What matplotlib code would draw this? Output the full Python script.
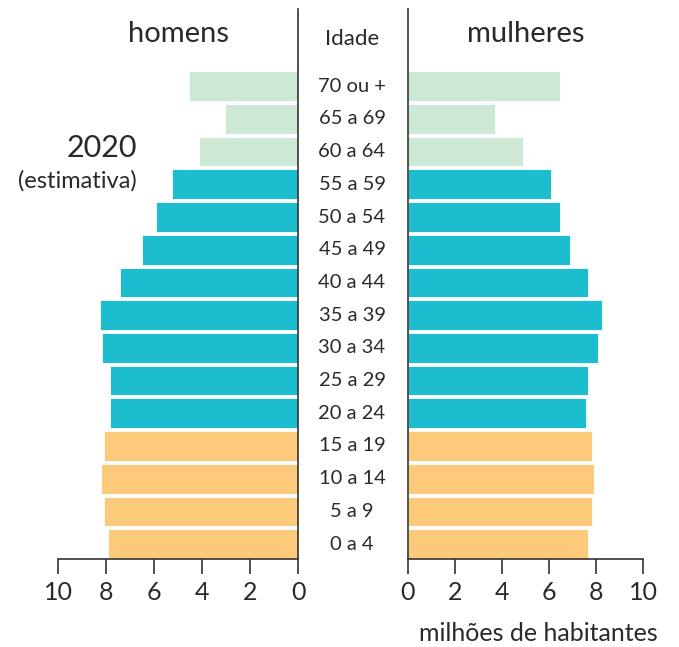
import matplotlib.pyplot as plt
import matplotlib.transforms as mtransforms
import numpy as np

# faixas etarias, de baixo para cima
idades = ["0 a 4", "5 a 9", "10 a 14", "15 a 19", "20 a 24", "25 a 29",
          "30 a 34", "35 a 39", "40 a 44", "45 a 49", "50 a 54", "55 a 59",
          "60 a 64", "65 a 69", "70 ou +"]
homens = [7.92, 8.08, 8.23, 8.08, 7.83, 7.83, 8.17, 8.25, 7.42, 6.5,
          5.94, 5.28, 4.13, 3.05, 4.54]
mulheres = [7.66, 7.83, 7.92, 7.83, 7.58, 7.66, 8.07, 8.26, 7.66, 6.9,
            6.47, 6.07, 4.89, 3.72, 6.47]
grupo = [0, 0, 0, 0, 1, 1, 1, 1, 1, 1, 1, 1, 2, 2, 2]
cores = ["#fdca7b", "#1dbdd0", "#cde9d5"]
ticks = [0, 2, 4, 6, 8, 10]

plt.rcParams['font.family'] = ['Lato', 'DejaVu Sans']
W, H = 679, 647
fig = plt.figure(figsize=(W / 100, H / 100), dpi=100)

y = np.arange(len(idades))
c = [cores[g] for g in grupo]
h = 0.91
ylim = (-h / 2, 16.36)
bot = (H - 559) / H
hgt = 550 / H

axl = fig.add_axes([58.3 / W, bot, 240 / W, hgt])
axr = fig.add_axes([407.7 / W, bot, 235.6 / W, hgt])

axl.barh(y, homens, height=h, color=c, edgecolor="white", linewidth=0.6)
axr.barh(y, mulheres, height=h, color=c, edgecolor="white", linewidth=0.6)

linec = "#333333"
txt = "#2a2a2a"
for ax in (axl, axr):
    ax.set_ylim(*ylim)
    ax.set_yticks([])
    ax.set_xticks(ticks)
    ax.set_xticklabels([str(t) for t in ticks], fontsize=18, color=txt)
    ax.tick_params(axis="x", direction="out", length=11, width=1.2,
                   color=linec, pad=5)
    ax.spines["top"].set_visible(False)
    ax.spines["bottom"].set_color(linec)
    ax.spines["bottom"].set_linewidth(1.2)

axl.set_xlim(10, 0)
axl.spines["left"].set_visible(False)
axl.spines["right"].set_color(linec)
axl.spines["right"].set_linewidth(1.2)

axr.set_xlim(0, 10)
axr.spines["right"].set_visible(False)
axr.spines["left"].set_color(linec)
axr.spines["left"].set_linewidth(1.2)

# rotulos das idades no centro
tr = mtransforms.blended_transform_factory(fig.transFigure, axr.transData)
for yi, lab in zip(y, idades):
    fig.text(352 / W, yi, lab, transform=tr, ha="center", va="center",
             fontsize=14.5, color=txt)

def px(xp, yp):
    return xp / W, 1 - yp / H

fig.text(*px(178, 42), "homens", ha="center", va="baseline", fontsize=21, color=txt)
fig.text(*px(526, 42), "mulheres", ha="center", va="baseline", fontsize=21, color=txt)
fig.text(*px(352, 45), "Idade", ha="center", va="baseline", fontsize=16, color=txt)
fig.text(*px(137, 157), "2020", ha="right", va="baseline", fontsize=22, color=txt)
fig.text(*px(77, 188), "(estimativa)", ha="center", va="baseline", fontsize=17, color=txt)
fig.text(*px(538, 641), "milhões de habitantes", ha="center", va="baseline",
         fontsize=18, color=txt)

fig.savefig("out.png", dpi=100)
